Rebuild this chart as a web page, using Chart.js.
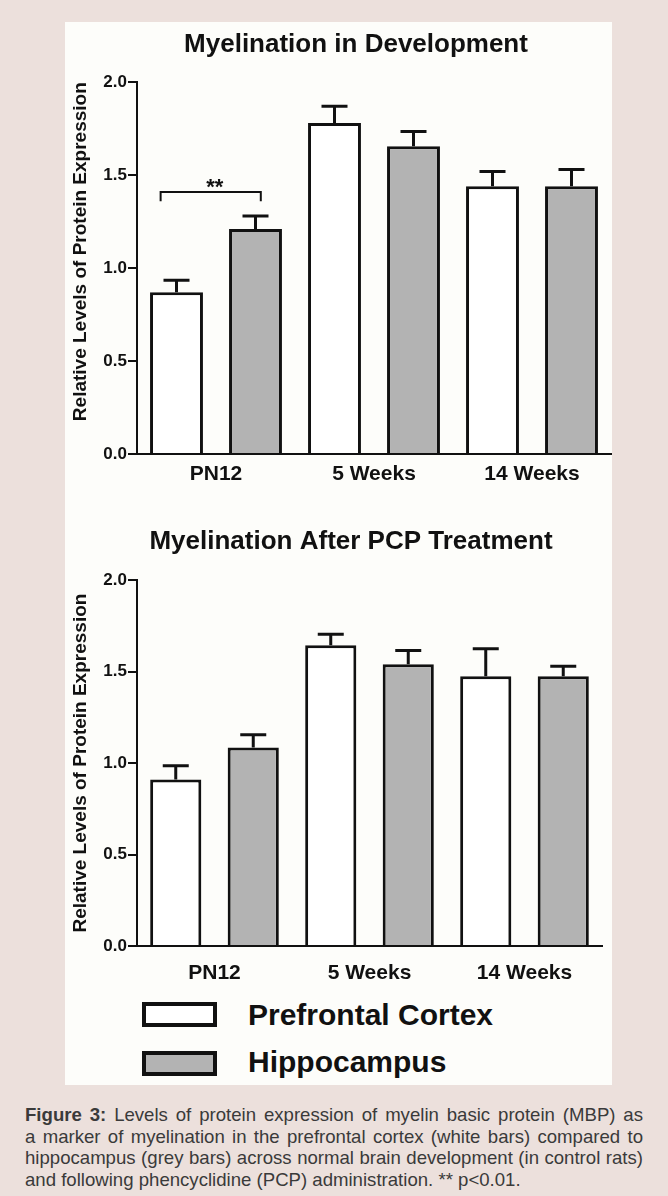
<!DOCTYPE html>
<html>
<head>
<meta charset="utf-8">
<title>Myelination figure</title>
<script src="https://cdn.jsdelivr.net/npm/chart.js@4.4.1/dist/chart.umd.min.js"></script>
<style>
  html, body { margin: 0; padding: 0; }
  body {
    width: 668px; height: 1196px; position: relative; overflow: hidden;
    background: #ece0dc;
    font-family: "Liberation Sans", Arial, sans-serif;
  }
  #panel { position: absolute; left: 65px; top: 22px; width: 547px; height: 1063px; background: #fdfdfa; }
  .wrap { position: absolute; left: 65px; }
  #wrapTop { top: 24px; }
  #wrapBot { top: 507px; }
  .key { position: absolute; left: 142px; width: 67px; height: 17px; border: 4px solid #111; }
  .keyText { position: absolute; left: 248px; font-weight: bold; font-size: 30px; line-height: 30px; color: #111; white-space: nowrap; }
  #caption {
    position: absolute; left: 25px; top: 1104px; width: 618px;
    font-size: 18.6px; line-height: 21.7px; color: #3a3a3a;
  }
  #caption .ln { white-space: nowrap; text-align: justify; text-align-last: justify; }
  #caption .ln.last { text-align: left; text-align-last: left; }
</style>
</head>
<body>
<div id="panel"></div>
<div class="wrap" id="wrapTop"><canvas id="devChart" width="582" height="470"></canvas></div>
<div class="wrap" id="wrapBot"><canvas id="pcpChart" width="572" height="479"></canvas></div>

<div class="key" style="top:1002px;background:#ffffff;"></div>
<div class="keyText" style="top:1000px;">Prefrontal Cortex</div>
<div class="key" style="top:1051px;background:#b3b3b3;"></div>
<div class="keyText" style="top:1047px;">Hippocampus</div>

<div id="caption">
  <div class="ln"><b>Figure 3:</b> Levels of protein expression of myelin basic protein (MBP) as</div>
  <div class="ln">a marker of myelination in the prefrontal cortex (white bars) compared to</div>
  <div class="ln">hippocampus (grey bars) across normal brain development (in control rats)</div>
  <div class="ln last">and following phencyclidine (PCP) administration. ** p&lt;0.01.</div>
</div>

<script>
const groups = ['PN12', '5 Weeks', '14 Weeks'];
const seriesNames = ['Prefrontal Cortex', 'Hippocampus'];
const yTitle = 'Relative Levels of Protein Expression';

// Myelination in Development
const devPFC = [0.87, 1.78, 1.44];
const devPFCErr = [0.065, 0.09, 0.08];
const devHip = [1.21, 1.655, 1.44];
const devHipErr = [0.07, 0.08, 0.09];
const devSig = [{ group: 0, level: 1.41, drop: 0.05, label: '**' }];

// Myelination After PCP Treatment
const pcpPFC = [0.91, 1.645, 1.475];
const pcpPFCErr = [0.075, 0.06, 0.15];
const pcpHip = [1.085, 1.54, 1.475];
const pcpHipErr = [0.07, 0.075, 0.055];

const font = 'Liberation Sans, Arial, sans-serif';
const ink = '#111';

// error bars (T caps) and significance bracket
const errorMarks = {
    id: 'errorMarks',
    afterDatasetsDraw(chart, args, opts) {
        const ctx = chart.ctx;
        const yScale = chart.scales.y;
        ctx.save();
        ctx.strokeStyle = ink;
        ctx.lineWidth = 3;
        chart.data.datasets.forEach((ds, i) => {
            chart.getDatasetMeta(i).data.forEach((bar, j) => {
                const top = yScale.getPixelForValue(ds.data[j] + ds.errors[j]);
                ctx.beginPath();
                ctx.moveTo(bar.x, bar.y);
                ctx.lineTo(bar.x, top);
                ctx.moveTo(bar.x - 13, top);
                ctx.lineTo(bar.x + 13, top);
                ctx.stroke();
            });
        });
        (opts.marks || []).forEach(m => {
            const b0 = chart.getDatasetMeta(0).data[m.group];
            const b1 = chart.getDatasetMeta(1).data[m.group];
            const x0 = b0.x - b0.width * 0.3;
            const x1 = b1.x + b1.width * 0.1;
            const yl = yScale.getPixelForValue(m.level);
            const yd = yScale.getPixelForValue(m.level - m.drop);
            ctx.lineWidth = 2;
            ctx.beginPath();
            ctx.moveTo(x0, yd);
            ctx.lineTo(x0, yl);
            ctx.lineTo(x1, yl);
            ctx.lineTo(x1, yd);
            ctx.stroke();
            ctx.fillStyle = ink;
            ctx.font = 'bold 22px ' + font;
            ctx.textAlign = 'center';
            ctx.textBaseline = 'alphabetic';
            ctx.fillText(m.label, (x0 + x1) / 2 + 4, yl + 2);
        });
        ctx.restore();
    }
};

function makeChart(id, titleText, pfc, pfcErr, hip, hipErr, sig, opt) {
    return new Chart(document.getElementById(id), {
        type: 'bar',
        data: {
            labels: groups,
            datasets: [
                { label: seriesNames[0], data: pfc, errors: pfcErr, backgroundColor: '#ffffff',
                  borderColor: ink, borderWidth: 3, barPercentage: opt.barPct, categoryPercentage: 1 },
                { label: seriesNames[1], data: hip, errors: hipErr, backgroundColor: '#b3b3b3',
                  borderColor: ink, borderWidth: 3, barPercentage: opt.barPct, categoryPercentage: 1 }
            ]
        },
        options: {
            responsive: false,
            animation: false,
            devicePixelRatio: 1,
            plugins: {
                legend: { display: false },
                tooltip: { enabled: false },
                title: {
                    display: true, text: titleText, color: ink,
                    font: { family: font, size: 26, weight: 'bold' },
                    padding: { top: opt.titleTop, bottom: opt.titleBottom }
                },
                errorMarks: { marks: sig }
            },
            scales: {
                x: {
                    grid: { display: false, drawTicks: false },
                    border: { display: true, color: ink, width: 2 },
                    ticks: { color: ink, padding: opt.xPad, font: { family: font, size: 21, weight: 'bold' } },
                    afterFit: s => { s.height = 40; }
                },
                y: {
                    min: 0, max: 2,
                    ticks: {
                        stepSize: 0.5, color: ink, padding: 1,
                        font: { family: font, size: 17, weight: 'bold' },
                        callback: v => v.toFixed(1)
                    },
                    grid: { drawOnChartArea: false, color: ink, lineWidth: 2, tickLength: 9 },
                    border: { display: true, color: ink, width: 2 },
                    title: {
                        display: true, text: yTitle, color: ink, align: opt.yTitleAlign,
                        font: { family: font, size: 19, weight: 'bold' },
                        padding: { top: 4, bottom: 0 }
                    },
                    afterFit: s => { s.width = 72; }
                },
                // empty right-hand axis, only keeps the title centred like the original
                yR: {
                    type: 'linear', position: 'right',
                    grid: { display: false }, border: { display: false }, ticks: { display: false },
                    afterFit: s => { s.width = opt.rightGap; }
                }
            }
        },
        plugins: [errorMarks]
    });
}

makeChart('devChart', 'Myelination in Development', devPFC, devPFCErr, devHip, devHipErr, devSig,
    { barPct: 0.67, titleTop: 5, titleBottom: 22, xPad: 8, rightGap: 36, yTitleAlign: 'end' });
makeChart('pcpChart', 'Myelination After PCP Treatment', pcpPFC, pcpPFCErr, pcpHip, pcpHipErr, [],
    { barPct: 0.66, titleTop: 19, titleBottom: 23, xPad: 15, rightGap: 35, yTitleAlign: 'center' });
</script>
</body>
</html>
